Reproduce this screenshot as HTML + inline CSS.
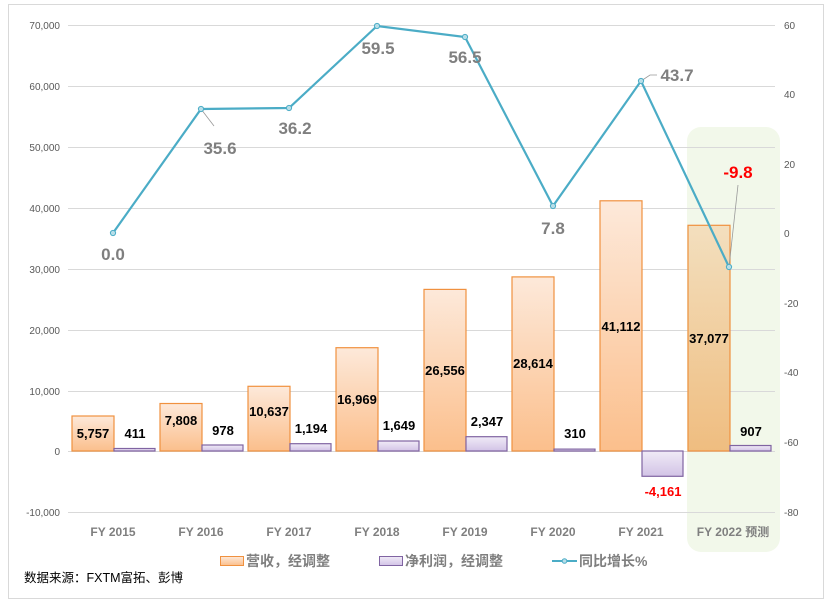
<!DOCTYPE html>
<html><head><meta charset="utf-8"><style>
body{margin:0;background:#fff}
svg{display:block;font-family:"Liberation Sans","Noto Sans CJK SC",sans-serif}
</style></head><body>
<svg width="833" height="609" viewBox="0 0 833 609" xmlns="http://www.w3.org/2000/svg">
<defs>
<linearGradient id="ro" x1="0" y1="0" x2="0" y2="1"><stop offset="0" stop-color="#fde9da"/><stop offset="1" stop-color="#fbbf8c"/></linearGradient>
<linearGradient id="ro2" x1="0" y1="0" x2="0" y2="1"><stop offset="0" stop-color="#f3dfbe"/><stop offset="1" stop-color="#efbd80"/></linearGradient>
<linearGradient id="pu" x1="0" y1="0" x2="0" y2="1"><stop offset="0" stop-color="#f0ebf7"/><stop offset="1" stop-color="#d2c3e6"/></linearGradient>
</defs>
<rect x="8.5" y="4.5" width="815" height="594" fill="#fff" stroke="#d9d9d9"/>
<rect x="687" y="127" width="93" height="425" rx="14" fill="#f2f8ea"/>
<g stroke="#d9d9d9" stroke-width="1">
<line x1="68" x2="775" y1="25.5" y2="25.5"/><line x1="68" x2="775" y1="86.5" y2="86.5"/>
<line x1="68" x2="775" y1="147.5" y2="147.5"/><line x1="68" x2="775" y1="208.5" y2="208.5"/>
<line x1="68" x2="775" y1="269.5" y2="269.5"/><line x1="68" x2="775" y1="330.5" y2="330.5"/>
<line x1="68" x2="775" y1="391.5" y2="391.5"/><line x1="68" x2="775" y1="451.5" y2="451.5"/>
<line x1="68" x2="775" y1="512.5" y2="512.5"/>
</g>
<g font-size="10" fill="#595959" text-anchor="end">
<text x="60" y="29">70,000</text><text x="60" y="90">60,000</text><text x="60" y="151">50,000</text>
<text x="60" y="212">40,000</text><text x="60" y="273">30,000</text><text x="60" y="334">20,000</text>
<text x="60" y="395">10,000</text><text x="60" y="455">0</text><text x="60" y="516">-10,000</text>
</g>
<g font-size="10" fill="#595959" text-anchor="start">
<text x="784" y="29">60</text><text x="784" y="98">40</text><text x="784" y="168">20</text>
<text x="784" y="237">0</text><text x="784" y="307">-20</text><text x="784" y="376">-40</text>
<text x="784" y="446">-60</text><text x="784" y="516">-80</text>
</g>
<g stroke="#f0913f" stroke-width="1.2">
<rect x="72" y="416" width="42" height="35" fill="url(#ro)"/>
<rect x="160" y="403.5" width="42" height="47.5" fill="url(#ro)"/>
<rect x="248" y="386.3" width="42" height="64.7" fill="url(#ro)"/>
<rect x="336" y="347.7" width="42" height="103.3" fill="url(#ro)"/>
<rect x="424" y="289.4" width="42" height="161.6" fill="url(#ro)"/>
<rect x="512" y="276.9" width="42" height="174.1" fill="url(#ro)"/>
<rect x="600" y="200.8" width="42" height="250.2" fill="url(#ro)"/>
<rect x="688" y="225.3" width="42" height="225.7" fill="url(#ro2)"/>
</g>
<g stroke="#8064a2" stroke-width="1.2" fill="url(#pu)">
<rect x="114" y="448.5" width="41" height="2.5"/>
<rect x="202" y="445" width="41" height="6"/>
<rect x="290" y="443.7" width="41" height="7.3"/>
<rect x="378" y="441" width="41" height="10"/>
<rect x="466" y="436.7" width="41" height="14.3"/>
<rect x="554" y="449.1" width="41" height="1.9"/>
<rect x="642" y="451" width="41" height="25.3"/>
<rect x="730" y="445.5" width="41" height="5.5"/>
</g>
<g font-size="13" font-weight="bold" fill="#000" text-anchor="middle">
<text x="93" y="438">5,757</text><text x="181" y="425">7,808</text><text x="269" y="416">10,637</text>
<text x="357" y="404">16,969</text><text x="445" y="375">26,556</text><text x="533" y="368">28,614</text>
<text x="621" y="331">41,112</text><text x="709" y="343">37,077</text>
<text x="135" y="438">411</text><text x="223" y="435">978</text><text x="311" y="433">1,194</text>
<text x="399" y="430">1,649</text><text x="487" y="426">2,347</text><text x="575" y="438">310</text>
<text x="663" y="496" fill="#ff0000">-4,161</text><text x="751" y="436">907</text>
</g>
<g stroke="#999" stroke-width="0.8" fill="none">
<path d="M201 109 L214 126"/><path d="M641 81 L650 75 L657 75"/><path d="M729 267 L738 185"/>
</g>
<polyline points="113,233 201,109 289,108 377,26 465,37 553,206 641,81 729,267" fill="none" stroke="#4bacc6" stroke-width="2.2"/>
<g fill="#b7dee8" stroke="#4bacc6" stroke-width="1">
<circle cx="113" cy="233" r="2.6"/><circle cx="201" cy="109" r="2.6"/><circle cx="289" cy="108" r="2.6"/>
<circle cx="377" cy="26" r="2.6"/><circle cx="465" cy="37" r="2.6"/><circle cx="553" cy="206" r="2.6"/>
<circle cx="641" cy="81" r="2.6"/><circle cx="729" cy="267" r="2.6"/>
</g>
<g font-size="17" font-weight="bold" fill="#7f7f7f" text-anchor="middle">
<text x="113" y="260">0.0</text><text x="220" y="154">35.6</text><text x="295" y="134">36.2</text>
<text x="378" y="54">59.5</text><text x="465" y="63">56.5</text><text x="553" y="234">7.8</text>
<text x="677" y="81">43.7</text><text x="738" y="178" fill="#ff0000">-9.8</text>
</g>
<g font-size="12" font-weight="bold" fill="#7f7f7f" text-anchor="middle">
<text x="113" y="536">FY 2015</text><text x="201" y="536">FY 2016</text><text x="289" y="536">FY 2017</text>
<text x="377" y="536">FY 2018</text><text x="465" y="536">FY 2019</text><text x="553" y="536">FY 2020</text>
<text x="641" y="536">FY 2021</text><text x="733" y="536">FY 2022 预测</text>
</g>
<rect x="220.5" y="556.5" width="23" height="9" fill="url(#ro)" stroke="#f0913f"/>
<text x="246" y="566" font-size="14" font-weight="bold" fill="#7f7f7f">营收，经调整</text>
<rect x="379.5" y="556.5" width="23" height="9" fill="url(#pu)" stroke="#8064a2"/>
<text x="405" y="566" font-size="14" font-weight="bold" fill="#7f7f7f">净利润，经调整</text>
<line x1="552" x2="577" y1="561" y2="561" stroke="#4bacc6" stroke-width="2"/>
<circle cx="564.5" cy="561" r="2.3" fill="#b7dee8" stroke="#4bacc6"/>
<text x="579" y="566" font-size="14" font-weight="bold" fill="#7f7f7f">同比增长%</text>
<text x="24" y="582" font-size="12.5" fill="#000">数据来源：FXTM富拓、彭博</text>
</svg>
</body></html>
